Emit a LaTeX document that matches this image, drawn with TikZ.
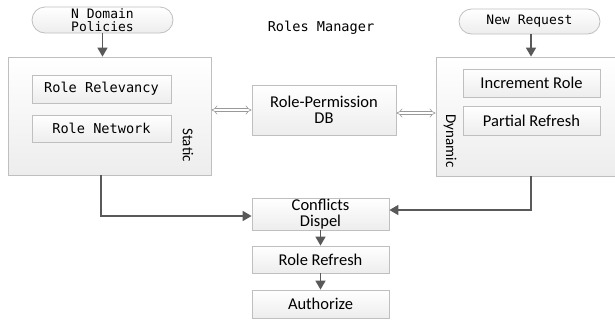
\documentclass[tikz,border=0pt]{standalone}
\usepackage{fontspec}
\setmainfont{Carlito}
\newfontfamily\codefont{DejaVu Sans Mono}
\usetikzlibrary{arrows.meta,shapes.misc}
\definecolor{edgegray}{HTML}{BFBFBF}
\definecolor{flowgray}{HTML}{595959}
\definecolor{fillgray}{HTML}{EDEDED}
\tikzset{
  panel/.style={draw=edgegray, line width=0.8pt, top color=white, bottom color=fillgray, inner sep=0pt},
  itembox/.style={panel, font=\fontsize{16.5}{15.5}\selectfont},
  codebox/.style={panel, font=\codefont\fontsize{13.6}{13}\selectfont},
  pill/.style={panel, rounded rectangle, font=\codefont\fontsize{13}{12.6}\selectfont, align=center},
  flow/.style={draw=flowgray, line width=1.6pt, -{Triangle[length=9pt,width=10pt]}},
  link/.style={draw=edgegray!80!black, double=white, double distance=2.6pt, line width=0.6pt, {Implies}-{Implies}},
  sidelabel/.style={font=\fontsize{15}{15}\selectfont, rotate=-90}
}
\begin{document}
\begin{tikzpicture}[x=1pt,y=-1pt]
\useasboundingbox (0,0) rectangle (615,322);

% inputs
\node[pill, minimum width=141pt, minimum height=26pt] (policies) at (102.5,20) {N Domain\\Policies};
\node[pill, minimum width=141pt, minimum height=25pt] (request) at (529.5,21.5) {New Request};
\node[font=\codefont\fontsize{13.6}{13}\selectfont] (title) at (321,28) {Roles Manager};

% static part
\node[panel, minimum width=203pt, minimum height=118pt] (static) at (109.5,116) {};
\node[codebox, minimum width=139pt, minimum height=28pt] (relevancy) at (101.5,89) {Role Relevancy};
\node[codebox, minimum width=139pt, minimum height=27pt] (network) at (101.5,128.5) {Role Network};
\node[sidelabel] (statictag) at (188,145) {Static};

% shared store
\node[itembox, minimum width=144pt, minimum height=50pt, align=center] (db) at (324,110) {Role-Permission\\DB};

% dynamic part
\node[panel, minimum width=179pt, minimum height=119pt] (dynamic) at (525.5,116.5) {};
\node[itembox, minimum width=137pt, minimum height=28pt] (increment) at (531.5,83) {Increment Role};
\node[itembox, minimum width=137pt, minimum height=29pt] (partial) at (531.5,120.5) {Partial Refresh};
\node[sidelabel] (dynamictag) at (450,141) {Dynamic};

% resolution chain
\node[itembox, minimum width=137pt, minimum height=32pt, align=center] (conflicts) at (320.5,214) {Conflicts\\Dispel};
\node[itembox, minimum width=137pt, minimum height=27pt] (refresh) at (320.5,259.5) {Role Refresh};
\node[itembox, minimum width=137pt, minimum height=28pt] (authorize) at (320.5,304) {Authorize};

% connectors
\draw[flow] (policies.south) -- (policies.south |- static.north);
\draw[flow] (request.south -| 531,0) -- (531,0 |- dynamic.north);
\draw[link] (static.east |- 0,110) -- (db.west |- 0,110);
\draw[link] (db.east |- 0,113) -- (dynamic.west |- 0,113);
\draw[flow] (static.south -| 101,0) |- (conflicts.west |- 0,216);
\draw[flow] (dynamic.south -| 531,0) |- (conflicts.east |- 0,210);
\draw[flow] (conflicts.south) -- (refresh.north);
\draw[flow] (refresh.south) -- (authorize.north);
\end{tikzpicture}
\end{document}
